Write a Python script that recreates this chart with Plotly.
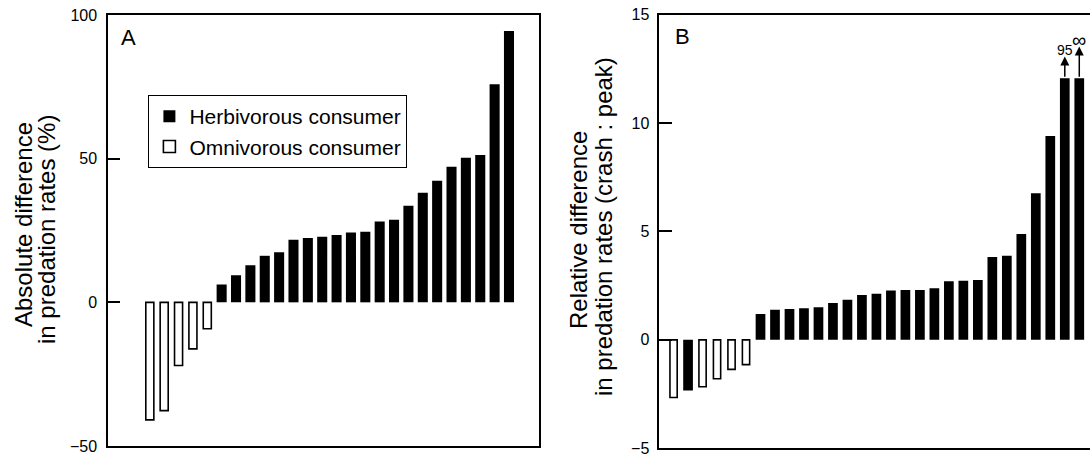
import plotly.graph_objects as go

# ---------------- data ----------------
# Panel A: absolute difference in predation rates (%), sorted
a_values = [-40.9, -37.7, -22.0, -16.2, -9.2,
            6.2, 9.4, 12.9, 16.2, 17.4, 21.8, 22.4, 22.8, 23.4, 24.3, 24.6,
            28.1, 28.7, 33.6, 38.1, 42.3, 47.2, 50.3, 51.3, 75.9, 94.4]
a_types = ["O"] * 5 + ["H"] * 21

# Panel B: relative difference in predation rates (crash : peak), sorted
b_values = [-2.66, -2.34, -2.16, -1.79, -1.36, -1.14,
            1.19, 1.39, 1.42, 1.46, 1.50, 1.70, 1.85, 2.07, 2.12, 2.27, 2.30,
            2.30, 2.38, 2.70, 2.73, 2.76, 3.82, 3.88, 4.88, 6.76, 9.40,
            12.06, 12.06]
b_types = ["O", "H", "O", "O", "O", "O"] + ["H"] * 23
# truncated bars (index -> label)
b_truncated = {27: "95", 28: "∞"}

legend_names = {"H": "Herbivorous consumer", "O": "Omnivorous consumer"}
y_ticks_a = [-50, 0, 50, 100]
y_ticks_b = [-5, 0, 5, 10, 15]

FONT = "Liberation Sans, Arial, Helvetica, sans-serif"
W, H = 1090, 457

fig = go.Figure()


def add_panel(values, types, xa, ya, show_legend, width_h, width_o):
    for t in ["H", "O"]:
        xs = [i for i, tt in enumerate(types) if tt == t]
        ys = [values[i] for i in xs]
        if t == "H":
            marker = dict(color="black", line=dict(color="black", width=0))
            w = width_h
        else:
            marker = dict(color="white", line=dict(color="black", width=1.6))
            w = width_o
        fig.add_trace(go.Bar(
            x=xs, y=ys, width=w, marker=marker, name=legend_names[t],
            legendgroup=t, showlegend=show_legend, xaxis=xa, yaxis=ya,
        ))


add_panel(a_values, a_types, "x", "y", True, 0.70, 0.56)
add_panel(b_values, b_types, "x2", "y2", False, 0.67, 0.50)

axis_common = dict(showline=True, linecolor="black", linewidth=2,
                   showgrid=False, zeroline=False)

fig.update_layout(
    width=W, height=H,
    margin=dict(l=0, r=0, t=0, b=0),
    paper_bgcolor="white", plot_bgcolor="white",
    barmode="overlay",
    font=dict(family=FONT, color="black", size=16),
    xaxis=dict(domain=[108.3 / W, 539.3 / W], range=[-2.89, 27.11],
               showticklabels=False, ticks="", mirror=True, automargin=False,
               **axis_common),
    yaxis=dict(domain=[1 - 446 / H, 1 - 15 / H], range=[-50, 100],
               tickvals=y_ticks_a, ticks="inside", ticklen=12, tickwidth=2,
               tickcolor="black", mirror=True, ticklabelstandoff=6,
               tickfont=dict(size=16, family=FONT, color="black"),
               automargin=False, **axis_common),
    xaxis2=dict(domain=[658.5 / W, 1.0], range=[-1.04, 28.74],
                showticklabels=False, ticks="", mirror=True, automargin=False,
                anchor="y2", **axis_common),
    yaxis2=dict(domain=[1 - 448.3 / H, 1 - 14.5 / H], range=[-5, 15],
                tickvals=y_ticks_b, ticks="inside", ticklen=13, tickwidth=2,
                tickcolor="black", mirror=False, ticklabelstandoff=4,
                tickfont=dict(size=16, family=FONT, color="black"),
                automargin=False, anchor="x2", **axis_common),
    legend=dict(x=148.4 / W, y=1 - 95 / H, xanchor="left", yanchor="top",
                bordercolor="black", borderwidth=1, bgcolor="white",
                font=dict(size=21, family=FONT, color="black"),
                traceorder="normal"),
)

annotations = []
# panel letters
annotations.append(dict(text="A", x=119 / W, y=1 - 37 / H, xref="paper", yref="paper",
                        xanchor="left", yanchor="middle", showarrow=False,
                        font=dict(size=22, family=FONT, color="black")))
annotations.append(dict(text="B", x=672.5 / W, y=1 - 36 / H, xref="paper", yref="paper",
                        xanchor="left", yanchor="middle", showarrow=False,
                        font=dict(size=22, family=FONT, color="black")))

# axis titles (two lines each, tight spacing)
title_lines = [
    ("Absolute difference", 23, 225),
    ("in predation rates (%)", 47, 230),
    ("Relative difference", 579, 230),
    ("in predation rates (crash : peak)", 603, 226),
]
for txt, px, py in title_lines:
    annotations.append(dict(text=txt, x=px / W, y=1 - py / H, xref="paper", yref="paper",
                            xanchor="center", yanchor="middle", textangle=-90,
                            showarrow=False,
                            font=dict(size=24, family=FONT, color="black")))

# arrows + labels on truncated bars
arrow_len = {27: 1.0, 28: 1.46}
label_size = {27: 14, 28: 20}
for idx, lab in b_truncated.items():
    top = b_values[idx]
    tip = top + arrow_len[idx]
    annotations.append(dict(text="", x=idx, y=tip, ax=idx, ay=top,
                            xref="x2", yref="y2", axref="x2", ayref="y2",
                            showarrow=True, arrowhead=2, arrowsize=1.2, arrowwidth=1.5,
                            arrowcolor="black", standoff=0, startstandoff=0))
    annotations.append(dict(text=lab, x=idx, y=tip, xref="x2", yref="y2",
                            xanchor="center", yanchor="bottom", showarrow=False,
                            yshift=-3 if idx == 27 else -6,
                            font=dict(size=label_size[idx], family=FONT, color="black")))

fig.update_layout(annotations=annotations)

fig.write_html(
    "out.html",
    config={"displayModeBar": False},
    post_script="document.body.style.margin='0';document.body.style.padding='0';"
                "document.body.style.overflow='hidden';",
)
